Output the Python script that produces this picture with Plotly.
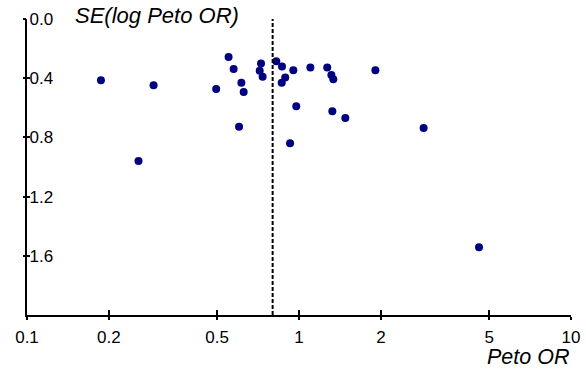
import plotly.graph_objects as go

# Data
peto_or = [0.187, 0.257, 0.292, 0.496, 0.551, 0.575, 0.602, 0.614, 0.626,
           0.725, 0.717, 0.735, 0.825, 0.866, 0.864, 0.890, 0.953, 0.977,
           0.927, 1.101, 1.270, 1.315, 1.337, 1.909, 1.326, 1.480, 2.872, 4.59]
se_log_or = [0.414, 0.959, 0.447, 0.473, 0.256, 0.337, 0.728, 0.430, 0.493,
             0.301, 0.350, 0.391, 0.285, 0.321, 0.430, 0.396, 0.346, 0.590,
             0.839, 0.328, 0.328, 0.378, 0.407, 0.346, 0.624, 0.669, 0.737, 1.542]
pooled_or = 0.80

x_tickvals = [0.1, 0.2, 0.5, 1, 2, 5, 10]
x_ticktext = ["0.1", "0.2", "0.5", "1", "2", "5", "10"]
y_tickvals = [0.0, 0.4, 0.8, 1.2, 1.6]
y_ticktext = ["0.0", "0.4", "0.8", "1.2", "1.6"]
x_title = "Peto OR"
y_title = "SE(log Peto OR)"

FONT = "Liberation Sans, Arial, sans-serif"
navy = "#000080"

fig = go.Figure()
fig.add_trace(go.Scatter(
    x=peto_or, y=se_log_or, mode="markers",
    marker=dict(color=navy, size=8, line=dict(width=0)),
    showlegend=False, hoverinfo="x+y"))
# empty trace so the overlay axes (inside tick halves) render
fig.add_trace(go.Scatter(x=[], y=[], xaxis="x2", yaxis="y2", showlegend=False))

fig.add_shape(type="line", xref="x", yref="paper", x0=pooled_or, x1=pooled_or,
              y0=0, y1=1, line=dict(color="black", width=2, dash="4px,2px"))

common_x = dict(type="log", range=[-1, 1], tickvals=x_tickvals, showgrid=False,
                zeroline=False, tickcolor="black", tickwidth=1.5, automargin=False,
                ticklabeloverflow="allow")
common_y = dict(range=[2.0, 0.0], tickvals=y_tickvals, showgrid=False,
                zeroline=False, tickcolor="black", tickwidth=1.5, automargin=False,
                ticklabeloverflow="allow")

fig.update_layout(
    width=586, height=369,
    margin=dict(l=27, r=15, t=19, b=54, autoexpand=False),
    paper_bgcolor="white", plot_bgcolor="white",
    font=dict(family=FONT, size=17, color="black"),
    xaxis=dict(**common_x, ticktext=x_ticktext, ticks="outside", ticklen=3,
               ticklabelstandoff=3,
               showline=True, linecolor="black", linewidth=2,
               tickfont=dict(family=FONT, size=17, color="black")),
    yaxis=dict(**common_y, ticktext=y_ticktext, ticks="inside", ticklen=3,
               ticklabelposition="inside",
               showline=True, linecolor="black", linewidth=2,
               tickfont=dict(family=FONT, size=17, color="black")),
    xaxis2=dict(**common_x, overlaying="x", anchor="y2", side="bottom",
                ticks="inside", ticklen=5, showticklabels=False, showline=False),
    yaxis2=dict(**common_y, overlaying="y", anchor="x2", side="left",
                ticks="outside", ticklen=3, showticklabels=False, showline=False),
    annotations=[
        dict(text="<i>" + y_title + "</i>", xref="paper", yref="paper",
             x=(73 - 27) / 544, y=1, xanchor="left", yanchor="middle", yshift=4,
             showarrow=False, font=dict(family=FONT, size=22, color="black")),
        dict(text="<i>" + x_title + "</i>", xref="paper", yref="paper",
             x=1, y=0, xanchor="right", yanchor="middle", yshift=-41.5,
             showarrow=False, font=dict(family=FONT, size=21.5, color="black")),
    ],
)

fig.write_html("out.html", config={"displayModeBar": False},
               post_script="document.body.style.margin='0';document.body.style.padding='0';")
